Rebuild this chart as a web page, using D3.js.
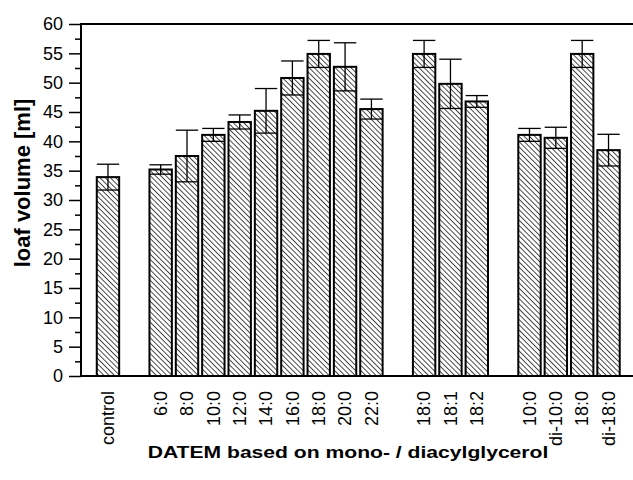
<!DOCTYPE html>
<html>
<head>
<meta charset="utf-8">
<script src="https://cdn.jsdelivr.net/npm/d3@7"></script>
<style>
	body { margin: 0; background: #fff; }
	svg { font-family: "Liberation Sans", Arial, sans-serif; }
	.tick text { font-size: 18px; fill: #000; }
</style>
</head>
<body>
<svg id="chart" width="633" height="480"></svg>
<script>
// slots along the x axis, "" marks an empty slot between groups
var labels = ["control", "", "6:0", "8:0", "10:0", "12:0", "14:0", "16:0", "18:0", "20:0", "22:0",
	"", "18:0", "18:1", "18:2", "", "10:0", "di-10:0", "18:0", "di-18:0"];

// loaf volume [ml] and standard deviation, null for the empty slots
var volume = [33.9, null, 35.2, 37.5, 41.1, 43.3, 45.2, 50.8, 54.9, 52.7, 45.5,
	null, 54.9, 49.8, 46.8, null, 41.1, 40.6, 54.9, 38.5];
var errors = [2.2, null, 0.8, 4.4, 1.1, 1.2, 3.8, 2.9, 2.3, 4.1, 1.7,
	null, 2.3, 4.2, 1.0, null, 1.1, 1.8, 2.3, 2.7];

var yTicks = d3.range(0, 61, 5);
var yMinor = d3.range(2.5, 60, 5);

drawChart();

function drawChart() {
	var svg = d3.select("#chart");

	var mLeft = 81, mRight = 633, mTop = 24, mBottom = 376;

	var x = d3.scaleBand()
		.domain(d3.range(labels.length))
		.range([94.8, 621.7])
		.paddingInner(0.15)
		.paddingOuter(0.075);

	var y = d3.scaleLinear()
		.domain([0, 60])
		.range([mBottom, mTop]);

	// hatch pattern for the bars
	var pat = svg.append("defs").append("pattern")
		.attr("id", "hatch")
		.attr("patternUnits", "userSpaceOnUse")
		.attr("width", 3.7)
		.attr("height", 3.7)
		.attr("patternTransform", "rotate(-45)");
	pat.append("rect").attr("width", 3.7).attr("height", 3.7).attr("fill", "#fff");
	pat.append("line")
		.attr("x1", 0.5).attr("y1", 0)
		.attr("x2", 0.5).attr("y2", 3.7)
		.attr("stroke", "#333")
		.attr("stroke-width", 0.9);

	var data = volume.map(function(v, i) {
		return {i: i, v: v, e: errors[i]};
	}).filter(function(d) { return d.v !== null; });

	// bars
	svg.append("g").selectAll("rect")
		.data(data)
		.enter()
		.append("rect")
			.attr("x", function(d) { return x(d.i); })
			.attr("y", function(d) { return y(d.v); })
			.attr("width", x.bandwidth())
			.attr("height", function(d) { return y(0) - y(d.v); })
			.attr("fill", "url(#hatch)")
			.attr("stroke", "#000")
			.attr("stroke-width", 2);

	// error bars
	var err = svg.append("g")
		.attr("stroke", "#000")
		.attr("stroke-width", 1.3)
		.selectAll("g")
		.data(data)
		.enter()
		.append("g");

	err.append("line")
		.attr("x1", function(d) { return x(d.i) + x.bandwidth() / 2; })
		.attr("x2", function(d) { return x(d.i) + x.bandwidth() / 2; })
		.attr("y1", function(d) { return y(d.v - d.e); })
		.attr("y2", function(d) { return y(d.v + d.e); });

	err.selectAll("line.cap")
		.data(function(d) { return [d.v - d.e, d.v + d.e].map(function(c) { return {i: d.i, c: c}; }); })
		.enter()
		.append("line")
			.attr("class", "cap")
			.attr("x1", function(d) { return x(d.i); })
			.attr("x2", function(d) { return x(d.i) + x.bandwidth(); })
			.attr("y1", function(d) { return y(d.c); })
			.attr("y2", function(d) { return y(d.c); });

	// y axis, major and minor ticks
	var yAxis = svg.append("g")
		.attr("transform", "translate(" + mLeft + ",0)")
		.call(d3.axisLeft(y).tickValues(yTicks).tickSize(12).tickPadding(6).tickSizeOuter(0));
	yAxis.select(".domain").remove();
	yAxis.selectAll(".tick line").attr("stroke-width", 1.5);

	var yAxisMinor = svg.append("g")
		.attr("transform", "translate(" + mLeft + ",0)")
		.call(d3.axisLeft(y).tickValues(yMinor).tickSize(6).tickFormat(""));
	yAxisMinor.select(".domain").remove();
	yAxisMinor.selectAll(".tick line").attr("stroke-width", 1.5);

	// frame lines
	svg.append("path")
		.attr("d", "M" + mRight + "," + mTop + "H" + mLeft + "V" + mBottom + "H" + mRight)
		.attr("fill", "none")
		.attr("stroke", "#000")
		.attr("stroke-width", 2);

	// x labels, rotated
	var xAxis = svg.append("g")
		.attr("transform", "translate(0," + mBottom + ")")
		.call(d3.axisBottom(x).tickSize(0).tickFormat(function(i) { return labels[i]; }));
	xAxis.select(".domain").remove();
	xAxis.selectAll(".tick text")
		.attr("transform", "rotate(-90)")
		.attr("x", -15)
		.attr("y", 0)
		.attr("dy", "0.35em")
		.attr("text-anchor", "end");

	// axis titles (the original lettering is wide, so stretch it)
	svg.append("text")
		.attr("transform", "translate(348,458) scale(1.28,1)")
		.attr("text-anchor", "middle")
		.attr("font-size", "16.5px")
		.attr("font-weight", "bold")
		.text("DATEM based on mono- / diacylglycerol");

	svg.append("text")
		.attr("transform", "translate(30,183) rotate(-90)")
		.attr("text-anchor", "middle")
		.attr("font-size", "22px")
		.attr("font-weight", "bold")
		.text("loaf volume [ml]");
}
</script>
</body>
</html>
